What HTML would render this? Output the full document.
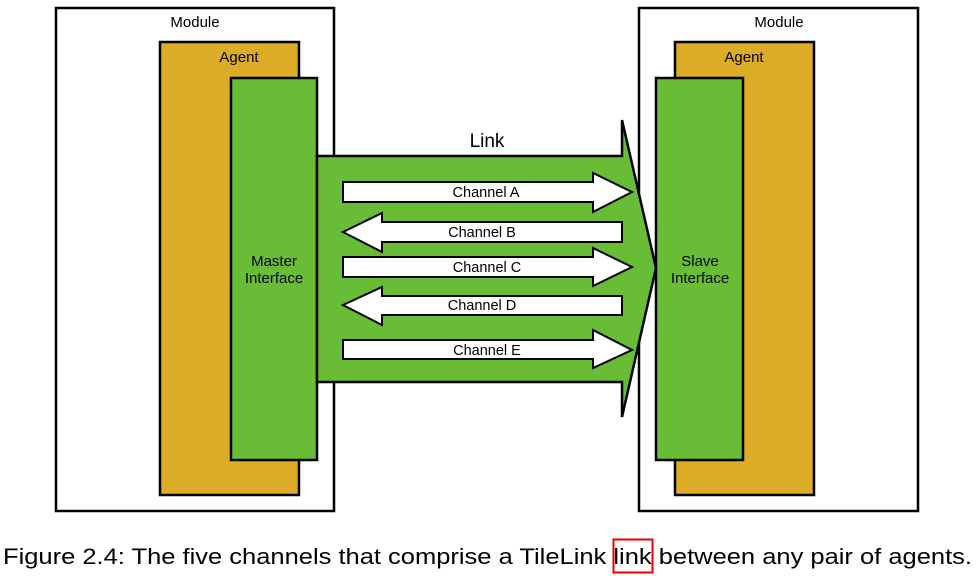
<!DOCTYPE html>
<html><head><meta charset="utf-8"><style>
html,body{margin:0;padding:0;background:#fff;}
svg{display:block;font-family:"Liberation Sans",sans-serif;}
</style></head><body>
<svg width="978" height="576" viewBox="0 0 978 576" xmlns="http://www.w3.org/2000/svg">
<g stroke="#000" stroke-width="2.5">
<rect x="56" y="8" width="278" height="503" fill="#fff"/>
<rect x="160" y="42" width="139" height="453" fill="#dcac27"/>
<rect x="231" y="78" width="86" height="382" fill="#68bc36"/>
<rect x="639" y="8" width="279" height="503" fill="#fff"/>
<rect x="675" y="42" width="139" height="453" fill="#dcac27"/>
<rect x="656" y="78" width="87" height="382" fill="#68bc36"/>
</g>
<g font-size="15" text-anchor="middle" fill="#000">
<text x="195" y="27">Module</text>
<text x="239" y="62">Agent</text>
<text x="274" y="266">Master</text>
<text x="274" y="283">Interface</text>
<text x="779" y="27">Module</text>
<text x="744" y="62">Agent</text>
<text x="700" y="266">Slave</text>
<text x="700" y="283">Interface</text>
</g>
<path d="M317 156 L622 156 L622 120 L656 268 L622 417 L622 382 L317 382 Z" fill="#68bc36" stroke="#000" stroke-width="2.5" stroke-linejoin="miter"/>
<text x="487" y="147" font-size="19" text-anchor="middle">Link</text>
<g fill="#fff" stroke="#000" stroke-width="2">
<path d="M343 182 L593 182 L593 173 L632 192 L593 212 L593 202 L343 202 Z"/>
<path d="M622 222 L382 222 L382 213 L343 232 L382 252 L382 242 L622 242 Z"/>
<path d="M343 257 L593 257 L593 248 L632 267 L593 286 L593 277 L343 277 Z"/>
<path d="M622 296 L382 296 L382 287 L343 305 L382 325 L382 315 L622 315 Z"/>
<path d="M343 340 L593 340 L593 330 L632 350 L593 368 L593 359 L343 359 Z"/>
</g>
<g font-size="14.5" text-anchor="middle">
<text x="486" y="197">Channel A</text>
<text x="482" y="237">Channel B</text>
<text x="487" y="272">Channel C</text>
<text x="482" y="310">Channel D</text>
<text x="487" y="355">Channel E</text>
</g>
<text x="3" y="564" font-size="22" textLength="969" lengthAdjust="spacingAndGlyphs">Figure 2.4: The five channels that comprise a TileLink link between any pair of agents.</text>
<rect x="613.5" y="539.5" width="39" height="33" fill="none" stroke="#e00" stroke-width="2"/>
</svg>
</body></html>
